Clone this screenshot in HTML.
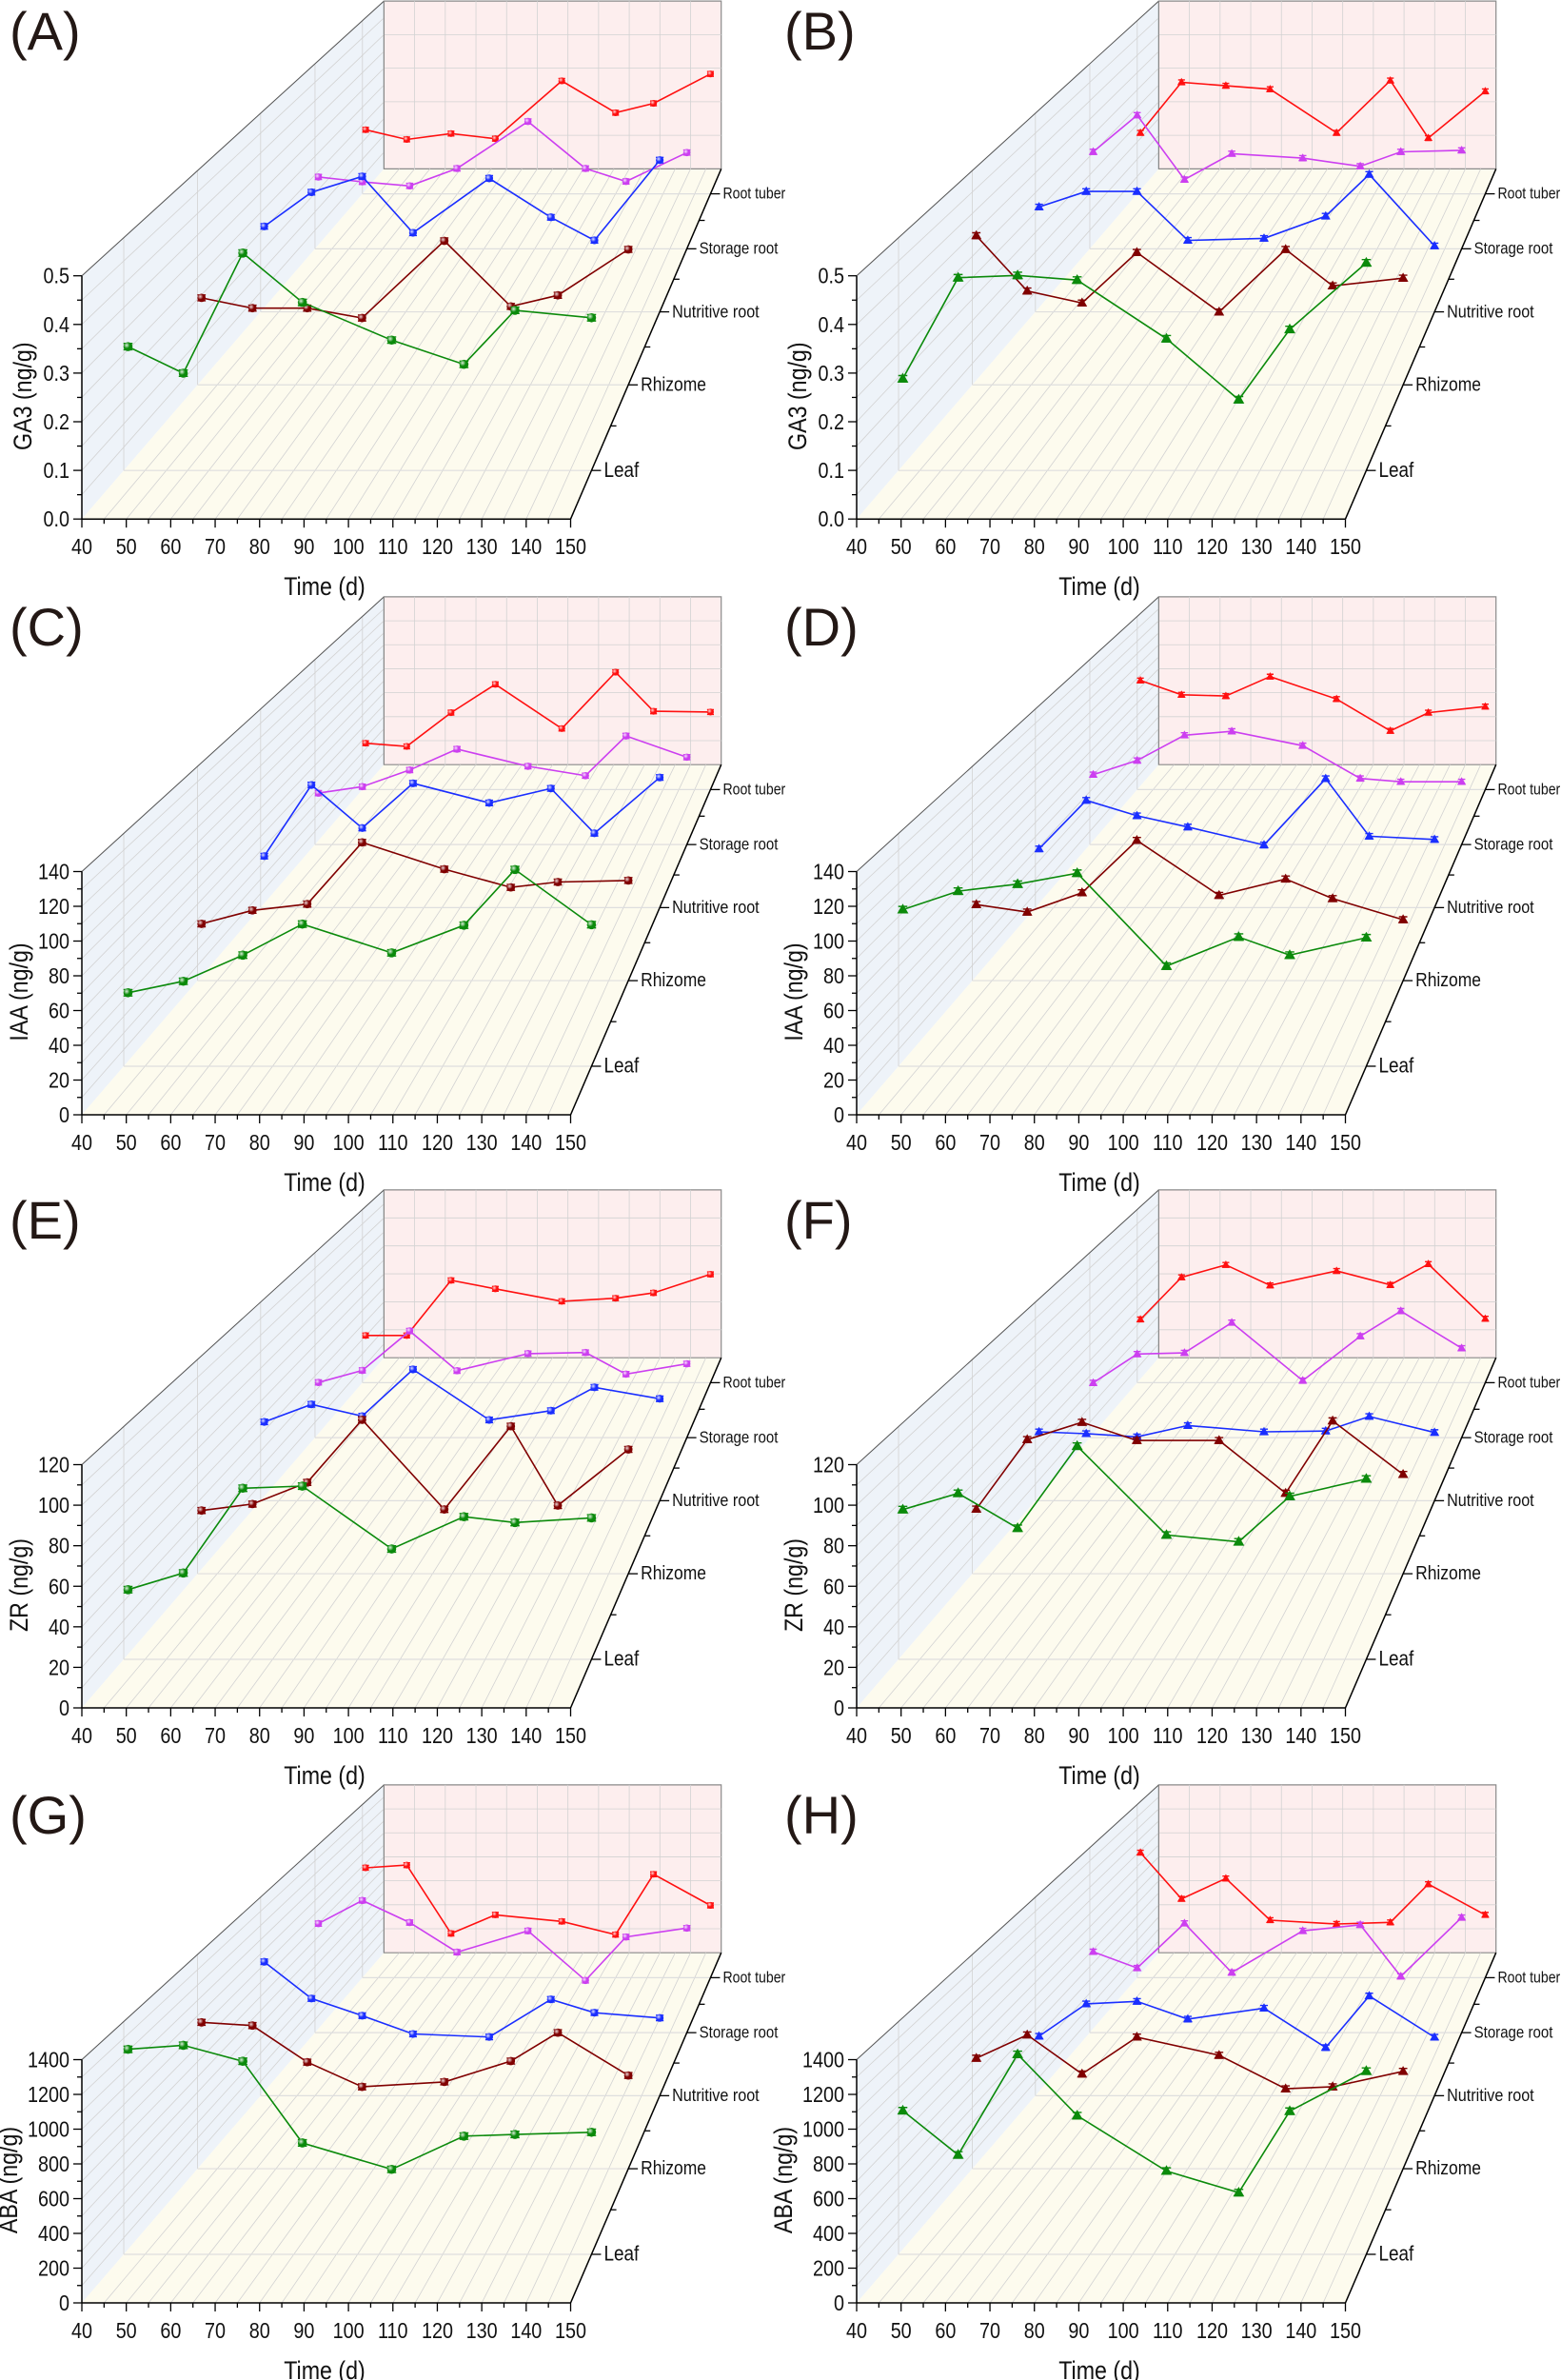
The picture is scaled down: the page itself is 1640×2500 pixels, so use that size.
<!DOCTYPE html>
<html><head><meta charset="utf-8"><style>
html,body{margin:0;padding:0;background:#fff;}
svg{display:block;font-family:"Liberation Sans",Arial,sans-serif;}
</style></head><body>
<svg id="fig" xmlns="http://www.w3.org/2000/svg" width="1640" height="2500" viewBox="0 0 1640 2500">
<defs>
<radialGradient id="sh" cx="0.35" cy="0.35" r="0.7"><stop offset="0" stop-color="#fff" stop-opacity="0.85"/><stop offset="0.5" stop-color="#fff" stop-opacity="0"/></radialGradient>
</defs>
</svg>
<script>
const times=[41,54,68,82,103,120,132,150];
const categories=["Leaf","Rhizome","Nutritive root","Storage root","Root tuber"];
const catDepth=[0.1,0.3,0.5,0.7,0.9];
const xTicks=[40,50,60,70,80,90,100,110,120,130,140,150];
const panelLetters=["A","B","C","D","E","F","G","H"];
const yTitles=["GA3 (ng/g)","GA3 (ng/g)","IAA (ng/g)","IAA (ng/g)","ZR (ng/g)","ZR (ng/g)","ABA (ng/g)","ABA (ng/g)"];
const yMax=[0.5,0.5,140,140,120,120,1400,1400];
const yStep=[0.1,0.1,20,20,20,20,200,200];
const yDecimals=[1,1,0,0,0,0,0,0];
// series order: Leaf, Rhizome, Nutritive root, Storage root, Root tuber
const valuesA=[[0.266,0.209,0.467,0.361,0.280,0.228,0.344,0.328],[0.203,0.179,0.179,0.156,0.336,0.183,0.209,0.316],[0.215,0.301,0.341,0.199,0.336,0.238,0.180,0.382],[0.194,0.181,0.170,0.217,0.344,0.217,0.182,0.260],[0.185,0.157,0.174,0.159,0.326,0.234,0.261,0.346]];
const valuesB=[[0.197,0.414,0.419,0.409,0.283,0.152,0.303,0.446],[0.348,0.219,0.191,0.309,0.170,0.316,0.231,0.249],[0.264,0.303,0.303,0.180,0.185,0.241,0.346,0.166],[0.262,0.361,0.187,0.257,0.245,0.223,0.262,0.266],[0.176,0.322,0.312,0.302,0.176,0.327,0.161,0.296]];
const valuesC=[[44.2,51.1,66.8,85.5,68.2,84.8,118.3,85.1],[37.1,45.9,50.0,90.3,72.8,60.9,64.4,65.4],[36.3,86.4,56.1,87.6,73.8,84.0,52.4,91.7],[38.9,43.8,56.4,72.2,59.2,52.1,82.2,66.1],[37.5,34.9,62.2,85.1,49.3,94.9,63.3,62.7]];
const valuesD=[[94.2,105.3,109.5,116.1,60.2,77.7,66.8,77.3],[49.7,44.8,57.4,91.6,55.7,66.4,53.6,39.8],[41.4,75.6,64.7,56.8,44.1,90.9,50.3,48.0],[52.9,63.6,82.7,85.7,74.8,50.0,47.5,47.5],[88.2,76.6,75.6,91.3,73.2,47.5,62.2,67.1]];
const valuesE=[[35.9,44.5,88.2,89.3,56.9,73.5,70.5,72.9],[35.4,39.0,51.1,86.2,36.0,82.6,38.2,69.6],[47.6,58.2,51.1,79.3,48.8,54.4,68.5,61.6],[35.8,43.6,69.2,43.4,54.5,55.2,41.2,47.9],[32.7,32.7,70.9,65.0,56.4,58.5,62.2,75.1]];
const valuesF=[[77.2,85.6,67.6,109.9,64.1,60.6,84.0,93.0],[36.2,75.1,84.8,74.6,74.6,45.1,85.6,55.6],[41.6,40.5,38.6,45.4,41.6,42.1,50.9,41.2],[35.5,54.2,55.0,74.6,37.0,65.8,82.1,58.0],[43.8,73.0,81.6,67.4,77.4,67.7,82.2,44.3]];
const valuesG=[[1233,1257,1161,670,511,711,721,734],[956,935,696,535,567,703,889,609],[944,685,564,435,414,679,585,548],[825,1000,833,609,770,395,724,791],[888,910,357,508,455,348,836,584]];
const valuesH=[[864,598,1203,834,501,371,861,1102],[722,874,619,860,741,522,535,636],[419,647,665,540,617,339,703,412],[612,489,827,455,770,816,426,871],[1011,637,802,465,434,447,756,508]];
const allValues=[valuesA,valuesB,valuesC,valuesD,valuesE,valuesF,valuesG,valuesH];
const seriesColors=["#0b8a0b","#800000","#1a2eff","#cc3ff0","#ff1010"];

const NS="http://www.w3.org/2000/svg";
const svg=document.getElementById('fig');
const colX=[86,900];
const rowY=[545.2,1171,1794,2419];
const titleOffset=[-62,-62,-66,-66,-66,-66,-77,-77];
const W=513.5,H=255.5,DX=317.4,DY=-367.8,K=0.69;
const SX=0.86;

function el(parent,tag,attrs,name,inter){
  const e=document.createElementNS(NS,tag);
  for(const a in attrs)e.setAttribute(a,attrs[a]);
  
  
  parent.appendChild(e);return e;
}
function txt(parent,x,y,s,size,anchor,name,extra){
  const a=Object.assign({x:x,y:y,'font-size':size,'text-anchor':anchor||'start',fill:'#111'},extra||{});
  const t=el(parent,'text',a,name,false);t.textContent=s;return t;
}
function ctxt(parent,x,y,s,size,anchor,name,rot){
  const t=el(parent,'text',{x:0,y:0,'font-size':size,'text-anchor':anchor||'start',fill:'#111',transform:'translate('+x+','+y+')'+(rot?' rotate('+rot+')':'')+' scale('+SX+',1)'},name,false);
  t.textContent=s;return t;
}

function drawPanel(p){
  const ox=colX[p%2],oy=rowY[Math.floor(p/2)];
  const vmax=yMax[p];
  const g=el(svg,'g',{},'panel-'+panelLetters[p].toLowerCase(),false);
  const depthF=z=>z/(K+z*(1-K));
  const proj=(t,v,z)=>{
    const f=depthF(z);const u=(t-40)/110, w=v/vmax;
    const xf=ox+u*W, yf=oy-w*H;
    const xb=ox+DX+u*W*K, yb=oy+DY-w*H*K;
    return [xf*(1-f)+xb*f, yf*(1-f)+yb*f, 1-0.31*f];
  };
  const pts=a=>a.map(q=>q[0].toFixed(1)+','+q[1].toFixed(1)).join(' ');
  const line=(a,b,stroke,sw,name)=>el(g,'line',{x1:a[0],y1:a[1],x2:b[0],y2:b[1],stroke:stroke,'stroke-width':sw},name,false);
  el(g,'polygon',{points:pts([proj(40,0,0),proj(40,vmax,0),proj(40,vmax,1),proj(40,0,1)]),fill:'#eef3f9'},'left-wall',false);
  el(g,'polygon',{points:pts([proj(40,0,0),proj(150,0,0),proj(150,0,1),proj(40,0,1)]),fill:'#fdfbee'},'floor',false);
  el(g,'polygon',{points:pts([proj(40,0,1),proj(150,0,1),proj(150,vmax,1),proj(40,vmax,1)]),fill:'#fdeeee',stroke:'#8a8a8a','stroke-width':1.2},'back-wall',false);
  const gc='#d2d2d2';
  for(let v=yStep[p]/2;v<=vmax+1e-9;v+=yStep[p]/2){line(proj(40,v,0),proj(40,v,1),gc,0.8,'left-wall-gridline');}
  catDepth.forEach(z=>line(proj(40,0,z),proj(40,vmax,z),gc,0.8,'left-wall-depth-gridline'));
  for(let t=45;t<150;t+=5){line(proj(t,0,0),proj(t,0,1),gc,0.8,'floor-time-gridline');}
  catDepth.forEach(z=>line(proj(40,0,z),proj(150,0,z),'#dedede',1.2,'floor-category-gridline'));
  for(let t=50;t<150;t+=10){line(proj(t,0,1),proj(t,vmax,1),gc,0.8,'back-wall-gridline');}
  for(let v=yStep[p];v<vmax-1e-9;v+=yStep[p]){line(proj(40,v,1),proj(150,v,1),gc,0.8,'back-wall-gridline');}
  line(proj(40,vmax,0),proj(40,vmax,1),'#555',1,'left-wall-top-edge');
  line(proj(40,0,1),proj(40,vmax,1),'#888',1,'left-wall-back-edge');
  const o=proj(40,0,0);
  line(o,proj(40,vmax,0),'#000',1.5,'y-axis');
  for(let i=0;i*yStep[p]/2<=vmax+1e-9;i++){
    const v=i*yStep[p]/2;const q=proj(40,v,0);
    line([q[0]-(i%2?5:9),q[1]],[q[0],q[1]],'#000',1.3,'y-tick');
    if(i%2===0)ctxt(g,q[0]-13,q[1]+8,v.toFixed(yDecimals[p]),23,'end','y-tick-label');
  }
  line(o,proj(150,0,0),'#000',1.5,'x-axis');
  for(let t=40;t<=150;t+=5){
    const q=proj(t,0,0);const major=(t%10===0);
    line([q[0],q[1]],[q[0],q[1]+(major?9:5)],'#000',1.3,'x-tick');
  }
  xTicks.forEach(t=>{const q=proj(t,0,0);ctxt(g,q[0],q[1]+37,String(t),23,'middle','x-tick-label');});
  ctxt(g,ox+255,oy+80,'Time (d)',27,'middle','x-axis-title');
  ctxt(g,ox+titleOffset[p]+9,oy-129,yTitles[p],27,'middle','y-axis-title',-90);
  line(proj(150,0,0),proj(150,0,1),'#000',1.5,'category-axis');
  [0.2,0.4,0.6,0.8].forEach(z=>{const q=proj(150,0,z);line(q,[q[0]+6,q[1]],'#000',1.3,'category-minor-tick');});
  catDepth.forEach((z,i)=>{
    const q=proj(150,0,z);
    line(q,[q[0]+10,q[1]],'#000',1.3,'category-tick');
    ctxt(g,q[0]+13,q[1]+7*q[2],categories[i],(23*q[2]).toFixed(1),'start','category-label');
  });
  txt(g,ox-76,oy-493,'('+panelLetters[p]+')',56,'start','panel-label',{fill:'#231815'});
  const vals=allValues[p];
  for(let s=4;s>=0;s--){
    const sg=el(g,'g',{},'series-'+categories[s].toLowerCase().replace(/ /g,'-'),false);
    const ps=times.map((t,i)=>proj(t,vals[s][i],catDepth[s]));
    el(sg,'polyline',{points:pts(ps),fill:'none',stroke:seriesColors[s],'stroke-width':1.6},'series-line',false);
    ps.forEach(q=>{
      const sc=q[2],e=3.5*sc,cw=5*sc;
      el(sg,'path',{d:'M'+(q[0]-cw)+','+(q[1]-e)+'h'+(2*cw)+'M'+q[0]+','+(q[1]-e)+'v'+(2*e)+'M'+(q[0]-cw)+','+(q[1]+e)+'h'+(2*cw),stroke:seriesColors[s],'stroke-width':1.4,fill:'none'},'error-bar',false);
      if(p%2===0){
        const r=5*sc;
        el(sg,'circle',{cx:q[0],cy:q[1],r:r,fill:seriesColors[s]},'data-point',true);
        el(sg,'circle',{cx:q[0],cy:q[1],r:r,fill:'url(#sh)'},'data-point-highlight',false);
      }else{
        const a=6.5*sc;
        el(sg,'polygon',{points:pts([[q[0],q[1]-a],[q[0]+a*0.95,q[1]+a*0.65],[q[0]-a*0.95,q[1]+a*0.65]]),fill:seriesColors[s]},'data-point',true);
      }
    });
  }
}
for(let p=0;p<8;p++)drawPanel(p);
</script>
</body></html>
